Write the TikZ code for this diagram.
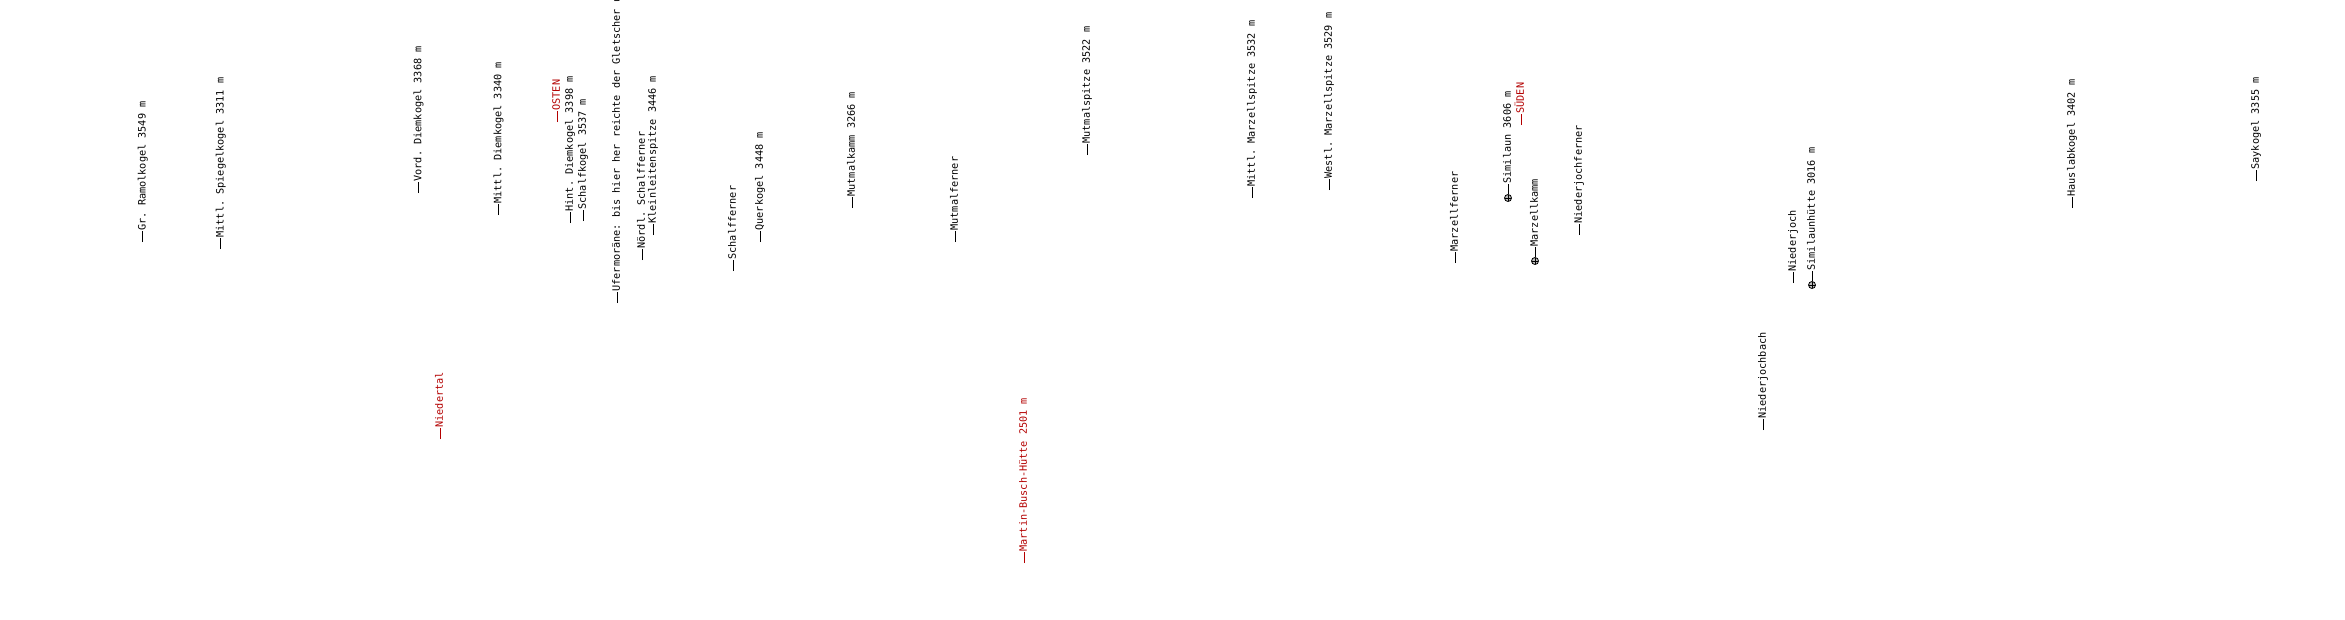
\documentclass[tikz,border=0pt]{standalone}
\usepackage{fontspec}
\setmonofont{DejaVu Sans Mono}
\usetikzlibrary{calc}
\definecolor{labred}{RGB}{180,0,0}
\tikzset{
  lbl/.style={inner sep=0pt, outer sep=0pt, rotate=90, anchor=base west,
    font=\ttfamily\fontsize{10.2pt}{12pt}\selectfont},
  tick/.style={line width=0.9pt},
  marker/.style={circle, draw=black, line width=0.8pt, minimum size=7pt, inner sep=0pt,
    fill=gray!50,
    path picture={\draw[black, line width=0.6pt]
      (path picture bounding box.north) -- (path picture bounding box.south)
      (path picture bounding box.west) -- (path picture bounding box.east);}}
}
% #1 name, #2 x, #3 y of the tick's lower end, #4 colour, #5 text
\newcommand\plabel[5]{%
  \coordinate (#1a) at (#2,#3);
  \coordinate (#1b) at (#2,#3-11);
  \draw[tick,#4] (#1a) -- (#1b);
  \node[lbl,text=#4] (#1) at ($(#1b)+(2.8,-0.5)$) {#5};
}
% label with a summit marker: #1 name, #2 x, #3 y of marker centre, #4 text
\newcommand\mlabel[4]{%
  \node[marker] (#1m) at (#2,#3) {};
  \coordinate (#1b) at (#2,#3-14);
  \draw[tick] (#1m.north) -- (#1b);
  \node[lbl,text=black] (#1) at ($(#1b)+(2.8,-0.5)$) {#4};
}
\begin{document}
\begin{tikzpicture}[x=1pt,y=-1pt]
\useasboundingbox[fill=white] (0,0) rectangle (2345,619);
\plabel{ramol}{142.7}{242}{black}{Gr. Ramolkogel 3549 m}
\plabel{spiegel}{220.7}{249}{black}{Mittl. Spiegelkogel 3311 m}
\plabel{vdiem}{418.5}{193}{black}{Vord. Diemkogel 3368 m}
\plabel{niedertal}{440}{439}{labred}{Niedertal}
\plabel{mdiem}{498.5}{215}{black}{Mittl. Diemkogel 3340 m}
\plabel{osten}{557}{122}{labred}{OSTEN}
\plabel{hdiem}{570}{223}{black}{Hint. Diemkogel 3398 m}
\plabel{schalfk}{583}{221}{black}{Schalfkogel 3537 m}
\plabel{uferm}{617}{303}{black}{Ufermoräne: bis hier her reichte der Gletscher un}
\plabel{nschalf}{642}{260}{black}{Nördl. Schalfferner}
\plabel{kleinl}{653}{235}{black}{Kleinleitenspitze 3446 m}
\plabel{schalff}{733}{271}{black}{Schalfferner}
\plabel{querk}{760}{242}{black}{Querkogel 3448 m}
\plabel{mutkamm}{852}{208}{black}{Mutmalkamm 3266 m}
\plabel{mutferner}{955}{242}{black}{Mutmalferner}
\plabel{mbh}{1024}{563}{labred}{Martin-Busch-Hütte 2501 m}
\plabel{mutspitze}{1087}{155}{black}{Mutmalspitze 3522 m}
\plabel{mmarz}{1252}{198}{black}{Mittl. Marzellspitze 3532 m}
\plabel{wmarz}{1329}{190}{black}{Westl. Marzellspitze 3529 m}
\plabel{marzf}{1455}{263}{black}{Marzellferner}
\mlabel{similaun}{1508}{198}{Similaun 3606 m}
\plabel{sueden}{1521}{125}{labred}{SÜDEN}
\mlabel{marzkamm}{1535}{261}{Marzellkamm}
\plabel{njferner}{1579}{235}{black}{Niederjochferner}
\plabel{njbach}{1763}{430}{black}{Niederjochbach}
\plabel{njoch}{1793}{283}{black}{Niederjoch}
\mlabel{simhuette}{1812}{285}{Similaunhütte 3016 m}
\plabel{hauslab}{2072}{208}{black}{Hauslabkogel 3402 m}
\plabel{saykogel}{2256}{181}{black}{Saykogel 3355 m}
\end{tikzpicture}
\end{document}
